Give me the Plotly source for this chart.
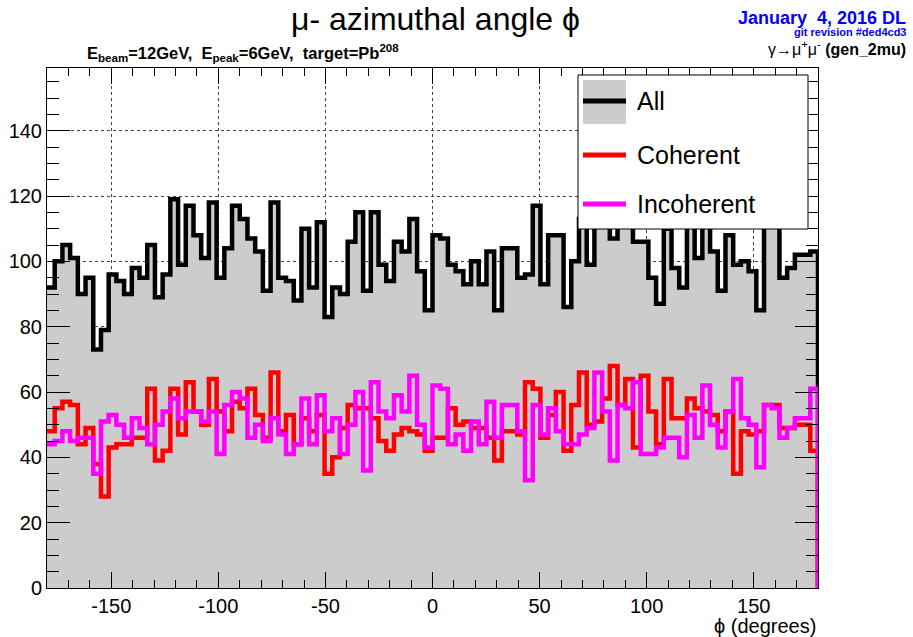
import plotly.graph_objects as go

# ---------------- data ----------------
phi_lo, phi_hi, n_bins = -180.0, 180.0, 100
bin_width = (phi_hi - phi_lo) / n_bins
phi_edges = [round(phi_lo + i * bin_width, 3) for i in range(n_bins)]

all_counts = [
    92, 100, 105, 101, 90, 95, 73, 79, 96, 94,
    90, 98, 95, 105, 89, 96, 119, 99, 117, 108,
    101, 118, 95, 104, 117, 113, 107, 103, 91, 118,
    95, 94, 88, 110, 92, 112, 83, 92, 90, 106,
    115, 91, 115, 99, 94, 106, 103, 113, 97, 85,
    108, 107, 99, 97, 93, 100, 93, 103, 85, 104,
    104, 95, 96, 117, 93, 108, 108, 86, 100, 113,
    99, 117, 112, 107, 112, 119, 106, 106, 95, 87,
    110, 98, 92, 111, 101, 116, 103, 91, 108, 99,
    100, 97, 85, 112, 111, 95, 98, 102, 102, 103,
]

coherent_counts = [
    48, 55, 57, 56, 44, 49, 38, 28, 43, 44,
    44, 46, 46, 61, 39, 42, 61, 47, 63, 54,
    50, 64, 54, 48, 57, 55, 61, 53, 46, 66,
    48, 53, 44, 52, 48, 53, 35, 40, 49, 56,
    55, 55, 52, 45, 42, 47, 49, 48, 47, 42,
    46, 46, 55, 50, 51, 49, 49, 46, 39, 48,
    48, 47, 63, 61, 46, 53, 60, 42, 56, 66,
    50, 51, 58, 68, 56, 64, 43, 65, 54, 44,
    64, 52, 52, 58, 55, 54, 53, 48, 54, 35,
    48, 47, 48, 56, 56, 49, 49, 50, 50, 42,
]

incoherent_counts = [
    44, 45, 48, 45, 46, 46, 35, 51, 53, 50,
    46, 52, 49, 44, 50, 54, 58, 52, 54, 54,
    51, 54, 41, 56, 60, 58, 46, 50, 45, 52,
    47, 41, 44, 58, 44, 59, 48, 52, 41, 50,
    60, 36, 63, 54, 52, 59, 54, 65, 50, 43,
    62, 61, 44, 47, 42, 51, 44, 57, 46, 56,
    56, 48, 33, 56, 47, 55, 48, 44, 44, 47,
    49, 66, 54, 39, 56, 55, 63, 41, 41, 43,
    46, 46, 40, 53, 46, 62, 50, 43, 54, 64,
    52, 50, 37, 56, 55, 46, 49, 52, 52, 61,
]

x_ticks = [-150, -100, -50, 0, 50, 100, 150]
x_tick_labels = ["-150", "-100", "-50", "0", "50", "100", "150"]
y_ticks = [0, 20, 40, 60, 80, 100, 120, 140]
y_tick_labels = ["0", "20", "40", "60", "80", "100", "120", "140"]
y_max = 159.2

series_names = ["All", "Coherent", "Incoherent"]
series_colors = ["black", "#ff0000", "#ff00ff"]
fill_grey = "#cccccc"

# ---------------- helpers ----------------
W, H = 913, 637
L, R, T, B = 47, 818, 68, 588


def px(xp):
    return (xp - L) / (R - L)


def py(yp):
    return (B - yp) / (B - T)


def step_xy(vals):
    xs = phi_edges + [phi_hi, phi_hi]
    ys = list(vals) + [vals[-1], 0]
    return xs, ys


fig = go.Figure()

xa, ya = step_xy(all_counts)
fig.add_trace(go.Scatter(x=xa, y=ya, mode="lines", line_shape="hv",
                         line=dict(color=series_colors[0], width=4.5),
                         fill="tozeroy", fillcolor=fill_grey,
                         name=series_names[0], showlegend=False))
xc, yc = step_xy(coherent_counts)
fig.add_trace(go.Scatter(x=xc, y=yc, mode="lines", line_shape="hv",
                         line=dict(color=series_colors[1], width=4.5),
                         name=series_names[1], showlegend=False))
xi, yi = step_xy(incoherent_counts)
fig.add_trace(go.Scatter(x=xi, y=yi, mode="lines", line_shape="hv",
                         line=dict(color=series_colors[2], width=4.5),
                         name=series_names[2], showlegend=False))

font_family = "Liberation Sans, Arial, Helvetica, sans-serif"

fig.update_layout(
    width=W, height=H,
    margin=dict(l=L, r=W - R, t=T, b=H - B, pad=0, autoexpand=False),
    paper_bgcolor="white", plot_bgcolor="white",
    font=dict(family=font_family, color="black", size=20),
    showlegend=False,
)

fig.update_xaxes(
    automargin=False,
    range=[phi_lo, phi_hi], tickvals=x_ticks, ticktext=x_tick_labels,
    ticks="inside", ticklen=16, tickwidth=1, tickcolor="black",
    mirror="allticks", showline=True, linecolor="black", linewidth=1,
    showgrid=True, gridcolor="#444444", griddash="dot", gridwidth=1,
    zeroline=False, tickfont=dict(size=20),
    minor=dict(ticks="inside", dtick=10, tick0=0, ticklen=8,
               tickcolor="black", showgrid=False),
)
fig.update_yaxes(
    automargin=False,
    range=[0, y_max], tickvals=y_ticks, ticktext=y_tick_labels,
    ticks="inside", ticklen=23, tickwidth=1, tickcolor="black",
    mirror="allticks", showline=True, linecolor="black", linewidth=1,
    showgrid=True, gridcolor="#444444", griddash="dot", gridwidth=1,
    zeroline=False, tickfont=dict(size=20),
    minor=dict(ticks="inside", dtick=5, tick0=0, ticklen=12,
               tickcolor="black", showgrid=False),
)

# ---------------- manual legend ----------------
shapes = [
    dict(type="rect", xref="paper", yref="paper",
         x0=px(578), x1=px(808), y0=py(229), y1=py(75),
         fillcolor="white", line=dict(color="black", width=1), layer="above"),
    dict(type="rect", xref="paper", yref="paper",
         x0=px(583), x1=px(626), y0=py(124), y1=py(80),
         fillcolor=fill_grey, line=dict(width=0), layer="above"),
]
legend_rows = [101, 155, 204]
for name, col, yy in zip(series_names, series_colors, legend_rows):
    shapes.append(dict(type="line", xref="paper", yref="paper",
                       x0=px(583), x1=px(626), y0=py(yy), y1=py(yy),
                       line=dict(color=col, width=5), layer="above"))
fig.update_layout(shapes=shapes)

annots = []
for name, yy in zip(series_names, legend_rows):
    annots.append(dict(xref="paper", yref="paper", x=px(635), y=py(yy),
                       xanchor="left", yanchor="middle", showarrow=False,
                       text=name, font=dict(size=25, color="black")))

# title and texts
annots += [
    dict(xref="paper", yref="paper", x=px(435), y=py(19),
         xanchor="center", yanchor="middle", showarrow=False,
         text="μ- azimuthal angle ϕ", font=dict(size=32)),
    dict(xref="paper", yref="paper", x=px(85), y=py(53),
         xanchor="left", yanchor="middle", showarrow=False,
         text="<b>E<sub>beam</sub>=12GeV,  E<sub>peak</sub>=6GeV,  target=Pb<sup>208</sup></b>",
         font=dict(size=16.5)),
    dict(xref="paper", yref="paper", x=px(908), y=py(18),
         xanchor="right", yanchor="middle", showarrow=False,
         text="<b>January  4, 2016 DL</b>", font=dict(size=18, color="#0000ff")),
    dict(xref="paper", yref="paper", x=px(908), y=py(32),
         xanchor="right", yanchor="middle", showarrow=False,
         text="<b>git revision #ded4cd3</b>", font=dict(size=11, color="#0000ff")),
    dict(xref="paper", yref="paper", x=px(908), y=py(48),
         xanchor="right", yanchor="middle", showarrow=False,
         text="γ→μ<sup>+</sup>μ<sup>-</sup> <b>(gen_2mu)</b>", font=dict(size=16)),
    dict(xref="paper", yref="paper", x=px(818), y=py(626),
         xanchor="right", yanchor="middle", showarrow=False,
         text="ϕ (degrees)", font=dict(size=20)),
]
fig.update_layout(annotations=annots)

fig.write_html("out.html",
               config={"displayModeBar": False},
               post_script="document.body.style.margin='0';"
                           "document.body.style.padding='0';"
                           "document.body.style.overflow='hidden';")
